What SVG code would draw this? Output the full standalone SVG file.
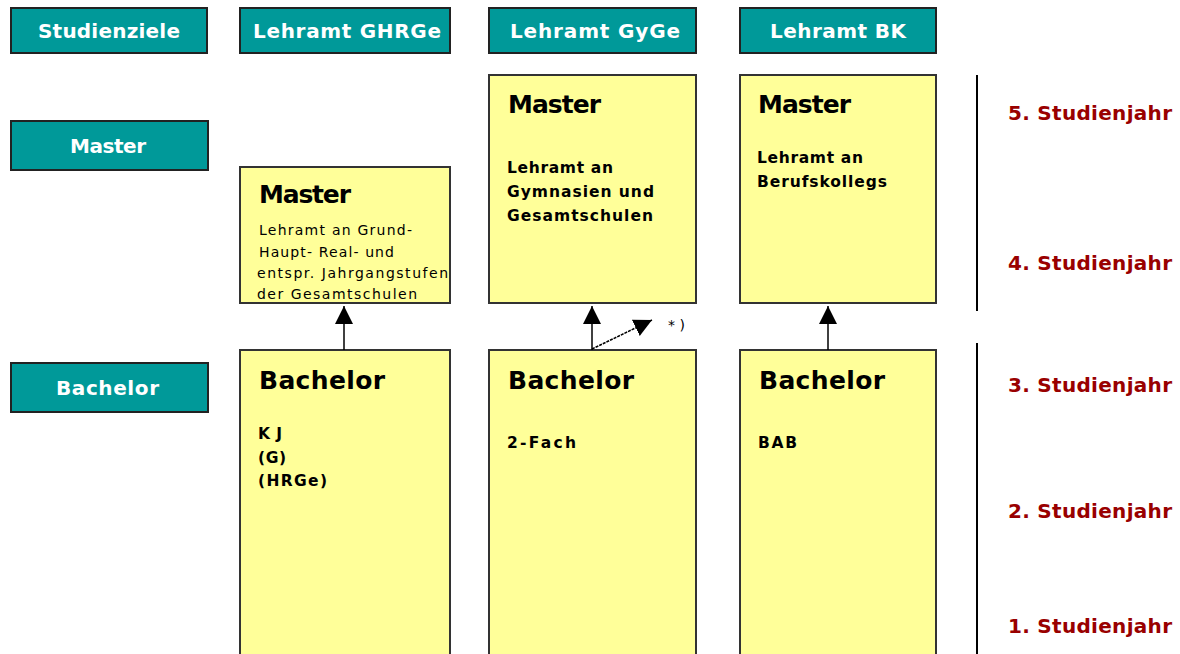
<svg xmlns="http://www.w3.org/2000/svg" width="1180" height="654" viewBox="0 0 1180 654">
<defs>
<style>
.hdr{fill:#009999;stroke:#222;stroke-width:2}
.ht{fill:#fff;font-family:"DejaVu Sans",Arial,sans-serif;font-weight:bold;font-size:20px}
.box{fill:#ffff99;stroke:#333;stroke-width:2}
.tt{fill:#000;font-family:"DejaVu Sans",Arial,sans-serif;font-weight:bold;font-size:25px}
.bd{fill:#000;font-family:"DejaVu Sans",Arial,sans-serif;font-weight:bold;font-size:15.5px}
.sm{fill:#000;font-family:"DejaVu Sans",Arial,sans-serif;font-size:14px}
.yr{fill:#990000;font-family:"DejaVu Sans",Arial,sans-serif;font-weight:bold;font-size:20px}
.ln{stroke:#000;stroke-width:1.5;fill:none}
</style>
<marker id="ah2" viewBox="0 0 10 10" refX="10" refY="5" markerWidth="18" markerHeight="18" markerUnits="userSpaceOnUse" orient="auto"><path d="M0,0 L10,5 L0,10 Z" fill="#000"/></marker>
</defs>
<rect width="1180" height="654" fill="#fff"/>
<g id="h-studienziele"><rect class="hdr" x="11" y="8" width="196" height="45"/><text class="ht" x="38" y="38" textLength="142" lengthAdjust="spacing">Studienziele</text></g>
<g id="h-ghrge"><rect class="hdr" x="240" y="8" width="210" height="45"/><text class="ht" x="253" y="38" textLength="188" lengthAdjust="spacing">Lehramt GHRGe</text></g>
<g id="h-gyge"><rect class="hdr" x="489" y="8" width="207" height="45"/><text class="ht" x="510" y="38" textLength="170" lengthAdjust="spacing">Lehramt GyGe</text></g>
<g id="h-bk"><rect class="hdr" x="740" y="8" width="196" height="45"/><text class="ht" x="770" y="38" textLength="136" lengthAdjust="spacing">Lehramt BK</text></g>
<g id="l-master"><rect class="hdr" x="11" y="121" width="197" height="49"/><text class="ht" x="70" y="153" textLength="76" lengthAdjust="spacing">Master</text></g>
<g id="l-bachelor"><rect class="hdr" x="11" y="363" width="197" height="49"/><text class="ht" x="56" y="395" textLength="103" lengthAdjust="spacing">Bachelor</text></g>
<g id="m-ghrge"><rect class="box" x="240" y="167" width="210" height="136"/><text class="tt" x="259" y="203" textLength="92" lengthAdjust="spacing">Master</text>
<text class="sm" x="259" y="235" textLength="153" lengthAdjust="spacing">Lehramt an Grund-</text><text class="sm" x="259" y="257" textLength="135" lengthAdjust="spacing">Haupt- Real- und</text><text class="sm" x="257" y="278" textLength="191" lengthAdjust="spacing">entspr. Jahrgangstufen</text><text class="sm" x="257" y="299" textLength="160" lengthAdjust="spacing">der Gesamtschulen</text></g>
<g id="m-gyge"><rect class="box" x="489" y="75" width="207" height="228"/><text class="tt" x="508" y="113" textLength="93" lengthAdjust="spacing">Master</text>
<text class="bd" x="507" y="173" textLength="106" lengthAdjust="spacing">Lehramt an</text><text class="bd" x="507" y="197" textLength="147" lengthAdjust="spacing">Gymnasien und</text><text class="bd" x="507" y="221" textLength="146" lengthAdjust="spacing">Gesamtschulen</text></g>
<g id="m-bk"><rect class="box" x="740" y="75" width="196" height="228"/><text class="tt" x="758" y="113" textLength="93" lengthAdjust="spacing">Master</text>
<text class="bd" x="757" y="163" textLength="106" lengthAdjust="spacing">Lehramt an</text><text class="bd" x="757" y="187" textLength="130" lengthAdjust="spacing">Berufskollegs</text></g>
<g id="b-ghrge"><rect class="box" x="240" y="350" width="210" height="310"/><text class="tt" x="259" y="389" textLength="126" lengthAdjust="spacing">Bachelor</text>
<text class="bd" x="258" y="439" textLength="24" lengthAdjust="spacing">KJ</text><text class="bd" x="258" y="463" textLength="28" lengthAdjust="spacing">(G)</text><text class="bd" x="258" y="486" textLength="69" lengthAdjust="spacing">(HRGe)</text></g>
<g id="b-gyge"><rect class="box" x="489" y="350" width="207" height="310"/><text class="tt" x="508" y="389" textLength="126" lengthAdjust="spacing">Bachelor</text>
<text class="bd" x="507" y="448" textLength="69" lengthAdjust="spacing">2-Fach</text></g>
<g id="b-bk"><rect class="box" x="740" y="350" width="196" height="310"/><text class="tt" x="759" y="389" textLength="126" lengthAdjust="spacing">Bachelor</text>
<text class="bd" x="758" y="448" textLength="39" lengthAdjust="spacing">BAB</text></g>
<g id="connectors">
<line class="ln" x1="344" y1="350" x2="344" y2="306" marker-end="url(#ah2)"/>
<line class="ln" x1="592" y1="350" x2="592" y2="306" marker-end="url(#ah2)"/>
<line class="ln" x1="828" y1="350" x2="828" y2="306" marker-end="url(#ah2)"/>
<line class="ln" x1="592" y1="349" x2="652" y2="320" stroke-dasharray="3,1" marker-end="url(#ah2)"/>
<text class="sm" x="668" y="330" textLength="17" lengthAdjust="spacing">*)</text>
</g>
<g id="years">
<line x1="977" y1="75" x2="977" y2="311" stroke="#000" stroke-width="2"/>
<line x1="977" y1="343" x2="977" y2="654" stroke="#000" stroke-width="2"/>
<text class="yr" x="1008" y="120" textLength="164" lengthAdjust="spacing">5. Studienjahr</text>
<text class="yr" x="1008" y="270" textLength="164" lengthAdjust="spacing">4. Studienjahr</text>
<text class="yr" x="1008" y="392" textLength="164" lengthAdjust="spacing">3. Studienjahr</text>
<text class="yr" x="1008" y="518" textLength="164" lengthAdjust="spacing">2. Studienjahr</text>
<text class="yr" x="1008" y="633" textLength="164" lengthAdjust="spacing">1. Studienjahr</text>
</g>
</svg>
